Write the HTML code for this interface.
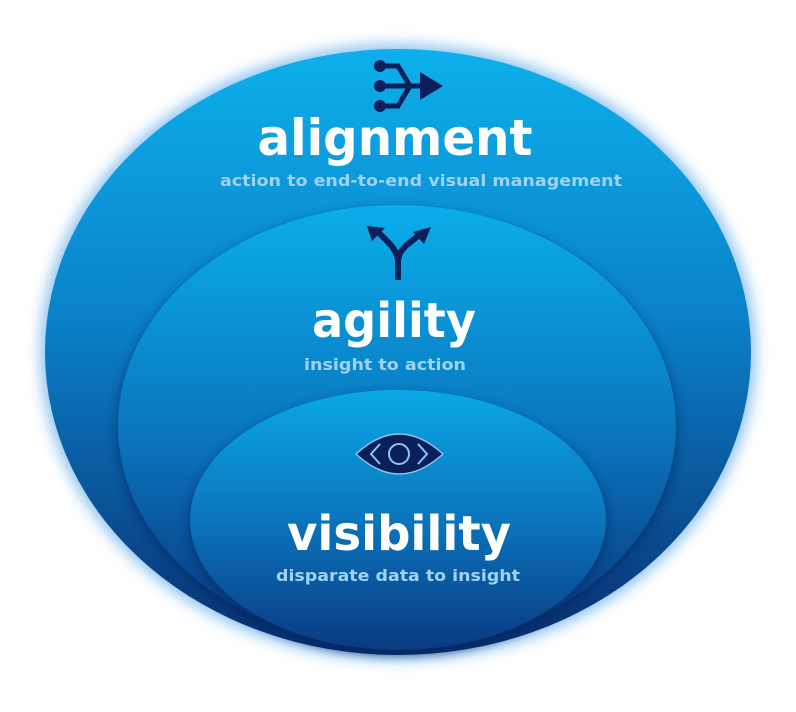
<!DOCTYPE html>
<html><head><style>
html,body{margin:0;padding:0;background:#fff;width:796px;height:712px;overflow:hidden}
svg{display:block}
text{font-family:"DejaVu Sans","Liberation Sans",sans-serif;font-weight:bold;text-anchor:middle}
</style></head><body>
<svg width="796" height="712" viewBox="0 0 796 712">
<defs>
<linearGradient id="g1" x1="0" y1="0" x2="0" y2="1">
<stop offset="0" stop-color="#0db0ec"/><stop offset="0.45" stop-color="#0a80c8"/><stop offset="1" stop-color="#0a2d6e"/></linearGradient>
<linearGradient id="g2" x1="0" y1="0" x2="0" y2="1">
<stop offset="0" stop-color="#0aaeea"/><stop offset="0.5" stop-color="#0a78c0"/><stop offset="1" stop-color="#0a3278"/></linearGradient>
<linearGradient id="g3" x1="0" y1="0" x2="0" y2="1">
<stop offset="0" stop-color="#0aa8e6"/><stop offset="0.5" stop-color="#0a74bc"/><stop offset="1" stop-color="#0a3a82"/></linearGradient>
<filter id="glow" x="-10%" y="-10%" width="120%" height="120%"><feGaussianBlur stdDeviation="7"/></filter>
<filter id="sh" x="-10%" y="-10%" width="120%" height="120%"><feGaussianBlur stdDeviation="5"/></filter>
</defs>
<ellipse cx="398" cy="352" rx="358" ry="308" fill="#8fc4f0" filter="url(#glow)"/>
<ellipse cx="398" cy="352" rx="353" ry="303" fill="url(#g1)"/>
<ellipse cx="397" cy="430" rx="281" ry="222" fill="#06285e" opacity="0.5" filter="url(#sh)"/>
<ellipse cx="397" cy="426" rx="279" ry="221" fill="url(#g2)"/>
<ellipse cx="398" cy="524" rx="210" ry="131" fill="#06285e" opacity="0.5" filter="url(#sh)"/>
<ellipse cx="398" cy="520" rx="208" ry="130" fill="url(#g3)"/>
<g stroke="#0b1f5a" stroke-width="5" fill="none" stroke-linecap="round">
<path d="M380 66 H398 L410 86 H430"/><path d="M380 86 H430"/><path d="M380 106 H398 L410 86"/>
</g>
<g fill="#0b1f5a"><circle cx="380" cy="66" r="6"/><circle cx="380" cy="86" r="6"/><circle cx="380" cy="106" r="6"/>
<path d="M420 72 L443 86 L420 100 Z"/></g>
<text x="395" y="155" font-size="50" fill="#fff" textLength="275" lengthAdjust="spacingAndGlyphs">alignment</text>
<text x="421" y="186" font-size="16" fill="#9fd3f6" textLength="402" lengthAdjust="spacingAndGlyphs">action to end-to-end visual management</text>
<g stroke="#0b1f5a" stroke-width="6" fill="none">
<path d="M398 280 V262 Q398 252 388 242 L378 232"/><path d="M398 262 Q398 252 408 244 L418 236"/></g>
<g fill="#0b1f5a"><path d="M367 226 L385 228 L372 241 Z"/><path d="M431 227 L424 244 L413 232 Z"/></g>
<text x="394" y="337" font-size="48" fill="#fff" textLength="164" lengthAdjust="spacingAndGlyphs">agility</text>
<text x="385" y="370" font-size="16" fill="#9fd3f6" textLength="162" lengthAdjust="spacingAndGlyphs">insight to action</text>
<path d="M356 454 Q399 414 443 454 Q399 494 356 454 Z" fill="#0b1f5a" stroke="#8fc4f0" stroke-width="1.5"/>
<circle cx="399" cy="454" r="10" fill="none" stroke="#8fc4f0" stroke-width="2"/>
<path d="M380 444 L371 454 L380 464" fill="none" stroke="#8fc4f0" stroke-width="2"/>
<path d="M418 444 L427 454 L418 464" fill="none" stroke="#8fc4f0" stroke-width="2"/>
<text x="399" y="550" font-size="48" fill="#fff" textLength="224" lengthAdjust="spacingAndGlyphs">visibility</text>
<text x="398" y="581" font-size="16" fill="#9fd3f6" textLength="244" lengthAdjust="spacingAndGlyphs">disparate data to insight</text>
</svg>
</body></html>
